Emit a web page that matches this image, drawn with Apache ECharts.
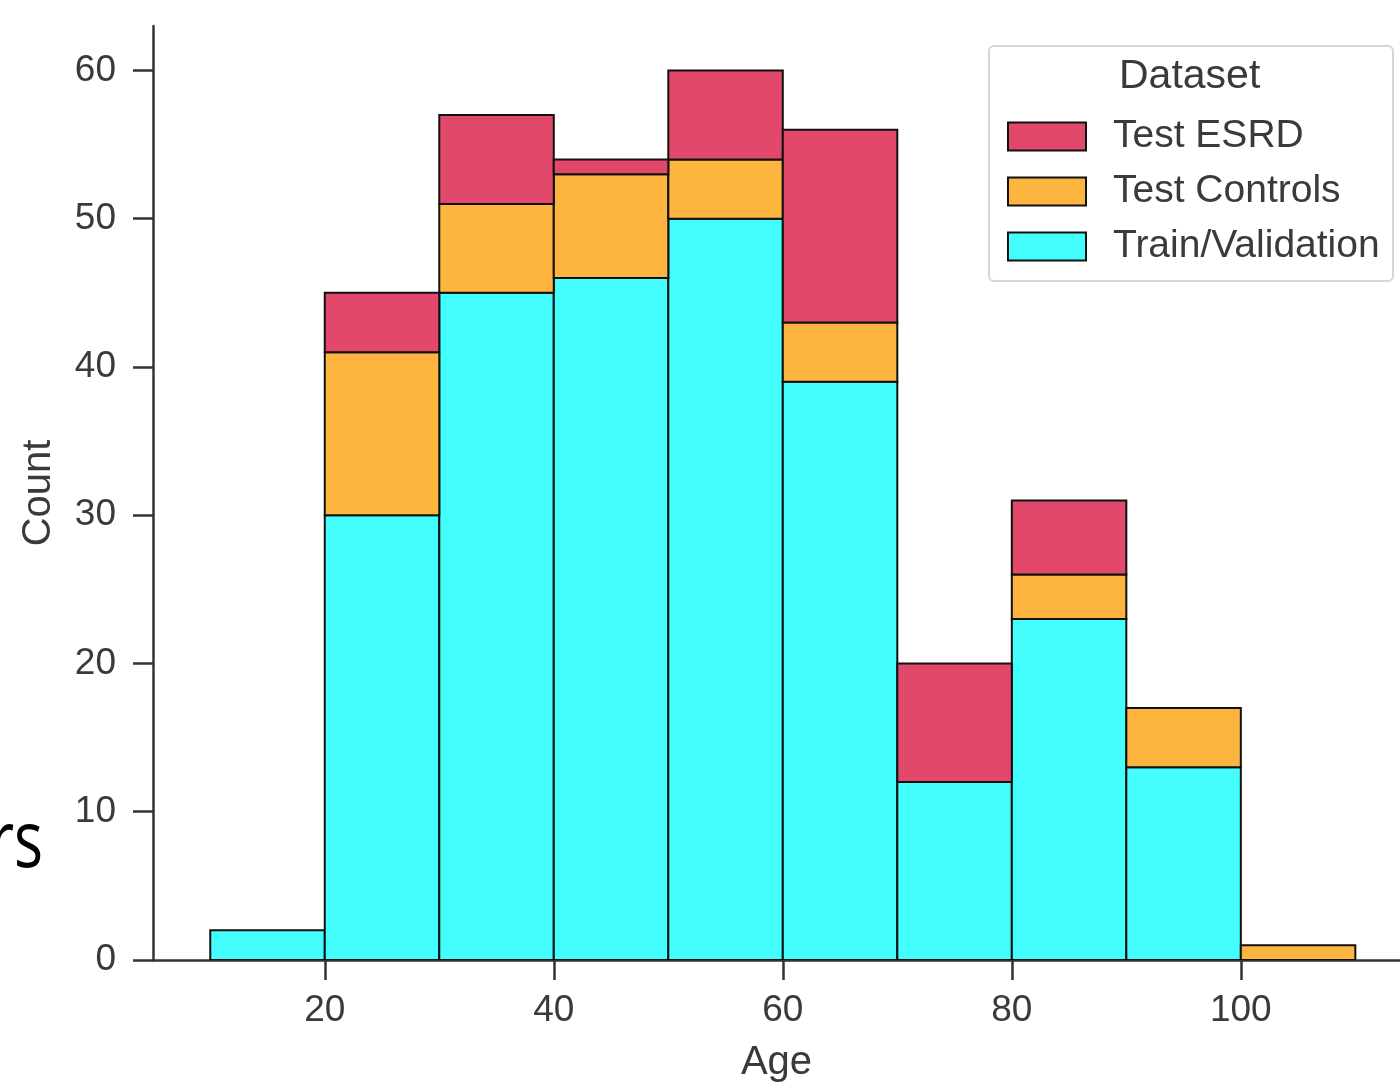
<!DOCTYPE html>
<html>
<head>
<meta charset="utf-8">
<script src="https://cdn.jsdelivr.net/npm/echarts@6/dist/echarts.min.js"></script>
<style>
html,body{margin:0;padding:0;background:#fff;}
#chart{width:1400px;height:1088px;}
</style>
</head>
<body>
<div id="chart"></div>
<script>
// Histogram bins (age, width 10)
const binStarts = [10, 20, 30, 40, 50, 60, 70, 80, 90, 100];
const binWidth = 10;
// Counts per dataset (stacked: Train/Validation bottom, Test Controls middle, Test ESRD top)
const trainValidation = [2, 30, 45, 46, 50, 39, 12, 23, 13, 0];
const testControls    = [0, 11, 6, 7, 4, 4, 0, 3, 4, 1];
const testESRD        = [0, 4, 6, 1, 6, 13, 8, 5, 0, 0];
const xTickLabels = [20, 40, 60, 80, 100];
const yTickLabels = [0, 10, 20, 30, 40, 50, 60];

const seriesNames = ['Train/Validation', 'Test Controls', 'Test ESRD'];
const seriesValues = [trainValidation, testControls, testESRD];
const seriesColors = ['#44FEFE', '#FDB53F', '#E1486A'];

const FONT = '"Liberation Sans", Arial, sans-serif';
const TXT = '#3a3a3a';

const chart = echarts.init(document.getElementById('chart'));

const series = seriesValues.map((vals, si) => {
  const data = binStarts.map((s, i) => {
    let bottom = 0;
    for (let k = 0; k < si; k++) bottom += seriesValues[k][i];
    return [s, s + binWidth, bottom, bottom + vals[i]];
  });
  return {
    type: 'custom',
    name: seriesNames[si],
    color: seriesColors[si],
    itemStyle: { color: seriesColors[si], borderColor: '#111', borderWidth: 2 },
    encode: { x: [0, 1], y: [2, 3] },
    clip: true,
    data: data,
    renderItem: function (params, api) {
      const x0 = api.value(0), x1 = api.value(1), b = api.value(2), t = api.value(3);
      if (t - b <= 0) return null;
      const p0 = api.coord([x0, t]);
      const p1 = api.coord([x1, b]);
      return {
        type: 'rect',
        shape: { x: p0[0], y: p0[1], width: p1[0] - p0[0], height: p1[1] - p0[1] },
        style: { fill: seriesColors[si], stroke: '#111', lineWidth: 2 }
      };
    }
  };
});

chart.setOption({
  animation: false,
  backgroundColor: '#fff',
  grid: { left: 153, top: 26, right: 0, bottom: 123, containLabel: false },
  xAxis: {
    type: 'value', min: 5, max: 113.9,
    name: 'Age', nameLocation: 'middle', nameGap: 83,
    nameTextStyle: { fontFamily: FONT, fontSize: 40, color: TXT },
    axisLine: { show: true, onZero: false, lineStyle: { color: '#333', width: 2.5 } },
    axisTick: { show: true, length: 20, customValues: xTickLabels, lineStyle: { color: '#333', width: 2.5 } },
    axisLabel: { customValues: xTickLabels, margin: 32, fontFamily: FONT, fontSize: 37, color: TXT },
    splitLine: { show: false }
  },
  yAxis: {
    type: 'value', min: 0, max: 63,
    name: 'Count', nameLocation: 'middle', nameGap: 94,
    nameTextStyle: { fontFamily: FONT, fontSize: 40, color: TXT },
    axisLine: { show: true, lineStyle: { color: '#333', width: 2.5 } },
    axisTick: { show: true, length: 20, customValues: yTickLabels, lineStyle: { color: '#333', width: 2.5 } },
    axisLabel: { customValues: yTickLabels, margin: 37, fontFamily: FONT, fontSize: 37, color: TXT },
    splitLine: { show: false }
  },
  legend: {
    orient: 'vertical', left: 1002, top: 112,
    data: ['Test ESRD', 'Test Controls', 'Train/Validation'],
    icon: 'rect', itemWidth: 78, itemHeight: 28, itemGap: 16,
    itemStyle: { borderColor: '#111', borderWidth: 2 },
    textStyle: { fontFamily: FONT, fontSize: 39, color: TXT, padding: [0, 0, 0, 22] },
    selectedMode: false
  },
  graphic: [
    { type: 'rect', left: 988, top: 45, z: 0,
      shape: { width: 404, height: 235, r: 5 },
      style: { fill: '#fff', stroke: '#d6d6d6', lineWidth: 2 } },
    { type: 'text', left: 1119, top: 56, z: 10,
      style: { text: 'Dataset', font: '41px ' + FONT, fill: TXT } },
    { type: 'text', x: 43, y: 845, scaleX: 0.78, z: 10,
      style: { text: 'rs', align: 'right', verticalAlign: 'middle',
               font: '78px "Open Sans", "Noto Sans", sans-serif', fill: '#000' } }
  ],
  series: series
});
</script>
</body>
</html>
